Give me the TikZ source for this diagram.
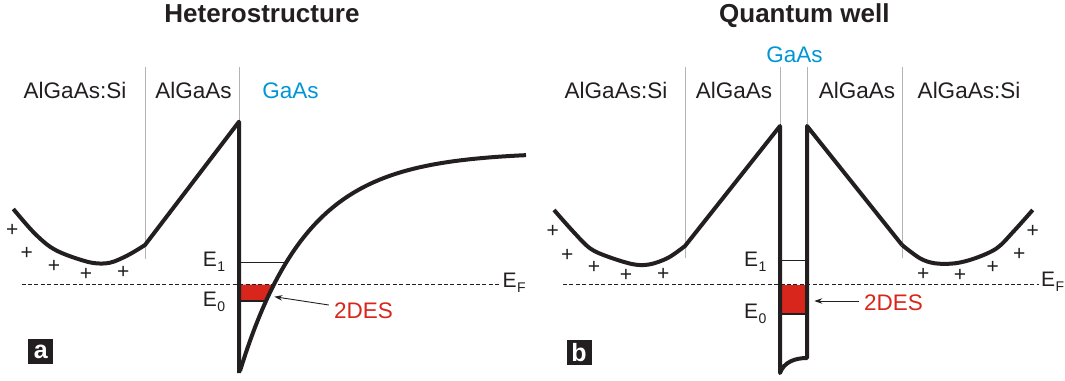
\documentclass[tikz,border=0pt]{standalone}
\usepackage{fontspec}
\setmainfont{Liberation Sans}
\usetikzlibrary{arrows.meta}
\definecolor{ink}{HTML}{231F20}
\definecolor{gaas}{HTML}{0096D6}
\definecolor{des}{HTML}{D9261C}
\definecolor{sepc}{HTML}{B4B4B4}
\newcommand{\lvl}[1]{E\kern0.5pt\raisebox{-5pt}{\fontsize{14}{14}\selectfont #1}}
\tikzset{
  band/.style={line width=4pt, draw=ink, line join=round},
  level/.style={line width=1.5pt, draw=ink},
  fermi/.style={line width=1.1pt, draw=ink, dash pattern=on 4pt off 2.4pt},
  sepline/.style={line width=0.9pt, draw=sepc},
  title/.style={font=\bfseries\fontsize{26}{26}\selectfont, text=ink, anchor=base, inner sep=0pt},
  lab/.style={font=\fontsize{22.5}{22.5}\selectfont, text=ink, anchor=base, inner sep=0pt},
  bluelab/.style={lab, text=gaas},
  elab/.style={font=\fontsize{21}{21}\selectfont, text=ink, anchor=base west, inner sep=0pt},
  deslab/.style={font=\fontsize{22.5}{22.5}\selectfont, text=des, anchor=base west, inner sep=0pt},
  plus/.style={font=\fontsize{21}{21}\selectfont, text=ink, inner sep=0pt},
  tag/.style={fill=ink, text=white, font=\bfseries\fontsize{25}{25}\selectfont, minimum size=25pt, inner sep=0pt},
  pointer/.style={line width=0.9pt, draw=ink, -{Stealth[length=8pt,width=5.5pt]}}
}
\begin{document}
\begin{tikzpicture}[x=1pt,y=-1pt]
\useasboundingbox (0,0) rectangle (1065,380);

% ================= Panel a =================
\node[title] (ta) at (262,22.7) {Heterostructure};
\node[lab] (a1) at (75,98.7) {AlGaAs:Si};
\node[lab] (a2) at (193.5,98.7) {AlGaAs};
\node[bluelab] (a3) at (290.5,98.7) {GaAs};

\draw[sepline] (145,66.7) -- (145,259);
\draw[sepline] (239,66.7) -- (239,123);

% 2DES fill
\fill[des] (239,284.5) -- (273.9,284.5) -- (266,301) -- (239,301) -- cycle;
\draw[level] (239,301) -- (266,301);
\draw[level] (239,262.3) -- (287,262.3);

\draw[fermi] (21.5,284.5) -- (501,284.5);

\draw[band] plot[smooth, tension=0.55] coordinates {(13.3,209) (33,231.7) (50,246.7) (66.7,255) (91.7,262.7) (110,262.7) (128.3,255) (145,245)} -- (239,121.7) -- (239,373);
\draw[band] plot[domain=240:526, samples=90, smooth] (\x, {152+219*exp(-(\x-240)/67.5)});

\node[elab] (e1a) at (202.7,266.7) {\lvl{1}};
\node[elab] (e0a) at (202.7,306.7) {\lvl{0}};
\node[elab] (efa) at (502.3,287) {\lvl{F}};

\node[deslab] (desa) at (334,318.3) {2DES};
\coordinate (taila) at (328.8,305);
\coordinate (tipa) at (274.3,296.7);
\draw[pointer] (taila) -- (tipa);

\node[plus] (pa1) at (12.3,230) {+};
\node[plus] (pa2) at (26.7,253.3) {+};
\node[plus] (pa3) at (54,266.7) {+};
\node[plus] (pa4) at (86,274) {+};
\node[plus] (pa5) at (123.3,272.7) {+};

\node[tag] (taga) at (40.8,351.5) {a};

% ================= Panel b =================
\node[title] (tb) at (804.4,22.7) {Quantum well};
\node[bluelab] (b0) at (794.5,62.7) {GaAs};
\node[lab] (b1) at (616,98.7) {AlGaAs:Si};
\node[lab] (b2) at (734,98.7) {AlGaAs};
\node[lab] (b3) at (857,98.7) {AlGaAs};
\node[lab] (b4) at (969,98.7) {AlGaAs:Si};

\draw[sepline] (685,66.7) -- (685,258);
\draw[sepline] (780,66.7) -- (780,127);
\draw[sepline] (807,66.7) -- (807,127);
\draw[sepline] (902,66.7) -- (902,258);

\fill[des] (780,284.5) rectangle (807,314);
\draw[level] (780,314) -- (807,314);
\draw[level] (780,260.7) -- (807,260.7);

\draw[fermi] (563,284.5) -- (1039,284.5);

\draw[band] plot[smooth, tension=0.55] coordinates {(554,210) (573.3,231.7) (590,248.3) (608,256.7) (633.3,264.3) (650,264.3) (668.3,257.7) (685,246)} -- (780,126) -- (780,373) .. controls (784,362) and (795,358) .. (807,358) -- (807,126) -- (902,245);
\draw[band] plot[smooth, tension=0.55] coordinates {(902,245) (920,258.3) (935,263.3) (955,263.3) (975,258.3) (996.7,248.3) (1013.3,231.7) (1032.7,210)};

\node[elab] (e1b) at (744,266.7) {\lvl{1}};
\node[elab] (e0b) at (744,318.3) {\lvl{0}};
\node[elab] (efb) at (1041,286) {\lvl{F}};

\node[deslab] (desb) at (864,310) {2DES};
\coordinate (tailb) at (859,301);
\coordinate (tipb) at (814.3,301);
\draw[pointer] (tailb) -- (tipb);

\node[plus] (pb1) at (552.7,231) {+};
\node[plus] (pb2) at (567.3,255) {+};
\node[plus] (pb3) at (594,267.7) {+};
\node[plus] (pb4) at (626,275) {+};
\node[plus] (pb5) at (663.3,274) {+};
\node[plus] (pb6) at (923.3,274) {+};
\node[plus] (pb7) at (960,275) {+};
\node[plus] (pb8) at (992.7,267.7) {+};
\node[plus] (pb9) at (1019.3,254.3) {+};
\node[plus] (pb10) at (1032.7,231) {+};

\node[tag] (tagb) at (579,352.3) {b};
\end{tikzpicture}
\end{document}
